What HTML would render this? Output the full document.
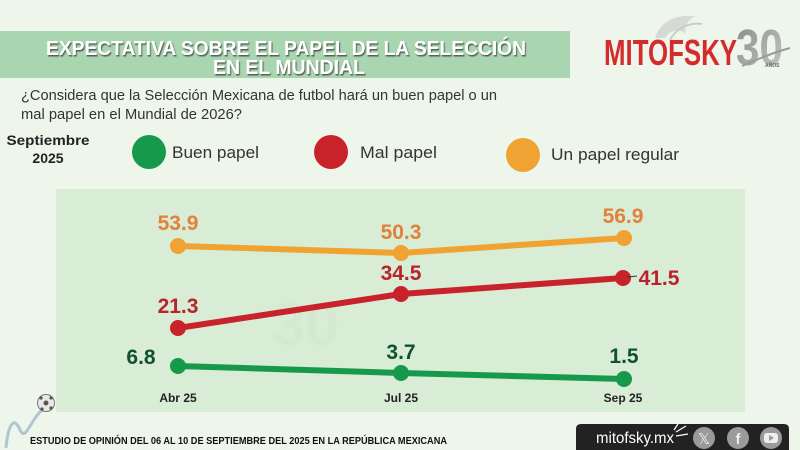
<!DOCTYPE html>
<html><head><meta charset="utf-8"><style>
html,body{margin:0;padding:0;background:#eef6ec;}
svg{display:block;}
</style></head><body>
<svg width="800" height="450" viewBox="0 0 800 450" xmlns="http://www.w3.org/2000/svg" font-family="Liberation Sans, sans-serif">
  <defs>
    <filter id="sh" x="-5%" y="-20%" width="110%" height="150%">
      <feDropShadow dx="1" dy="1.5" stdDeviation="0.6" flood-color="#333" flood-opacity="0.75"/>
    </filter>
    <linearGradient id="g30" x1="0" y1="0" x2="1" y2="1">
      <stop offset="0" stop-color="#8a8a8a"/><stop offset="1" stop-color="#c8c8c8"/>
    </linearGradient>
  </defs>
  <rect width="800" height="450" fill="#eef6ec"/>
  <!-- title bar -->
  <rect x="0" y="31" width="570" height="47" fill="#a9d5b0"/>
  <g filter="url(#sh)" fill="#ffffff" font-weight="bold" font-size="20" text-anchor="middle">
    <text x="286" y="55" textLength="480" lengthAdjust="spacingAndGlyphs">EXPECTATIVA SOBRE EL PAPEL DE LA SELECCIÓN</text>
    <text x="289" y="74" textLength="152" lengthAdjust="spacingAndGlyphs">EN EL MUNDIAL</text>
  </g>
  <!-- logo -->
  <path d="M655 38 C660 22 675 14 695 16 C688 20 684 26 686 34 C680 28 670 30 665 38 Z" fill="#cfd3cf" opacity="0.8"/>
  <path d="M670 40 C676 28 690 22 702 24" stroke="#c9cdc9" stroke-width="2" fill="none"/>
  <g transform="translate(604,65) scale(1,1.25)">
    <text x="0" y="0" font-size="29" font-weight="bold" fill="#d42c2c" textLength="133" lengthAdjust="spacingAndGlyphs">MITOFSKY</text>
  </g>
  <g transform="translate(736,65) scale(1,1.1)">
    <text x="0" y="0" font-size="46" font-weight="bold" fill="url(#g30)" textLength="47" lengthAdjust="spacingAndGlyphs">30</text>
  </g>
  <path d="M742 66 C760 58 775 52 790 48" stroke="#9a9a9a" stroke-width="2" fill="none"/>
  <text x="765" y="67" font-size="5" font-weight="bold" fill="#666">AÑOS</text>
  <!-- question -->
  <g font-size="14.5" fill="#333">
    <text x="21" y="100" textLength="476" lengthAdjust="spacingAndGlyphs">¿Considera que la Selección Mexicana de futbol hará un buen papel o un</text>
    <text x="21" y="119" textLength="221" lengthAdjust="spacingAndGlyphs">mal papel en el Mundial de 2026?</text>
  </g>
  <!-- legend -->
  <g font-weight="bold" font-size="14" fill="#222" text-anchor="middle">
    <text x="48" y="145" textLength="83" lengthAdjust="spacingAndGlyphs">Septiembre</text>
    <text x="48" y="163">2025</text>
  </g>
  <circle cx="149" cy="152" r="17" fill="#17994c"/>
  <text x="172" y="158" font-size="17" fill="#333" textLength="87" lengthAdjust="spacingAndGlyphs">Buen papel</text>
  <circle cx="331" cy="152" r="17" fill="#c8232b"/>
  <text x="360" y="158" font-size="17" fill="#333" textLength="77" lengthAdjust="spacingAndGlyphs">Mal papel</text>
  <circle cx="523" cy="155" r="17" fill="#f0a233"/>
  <text x="551" y="160" font-size="17" fill="#333" textLength="128" lengthAdjust="spacingAndGlyphs">Un papel regular</text>
  <!-- chart panel -->
  <rect x="56" y="189" width="689" height="223" fill="#d9ecd5"/>
  <!-- faint watermark -->
  <text x="272" y="345" font-size="60" font-weight="bold" fill="#cfe3cb" opacity="0.35">30</text>
  <!-- orange series -->
  <polyline points="178,246 401,253 624,238" fill="none" stroke="#f0a233" stroke-width="6" stroke-linejoin="round"/>
  <g fill="#f0a233"><circle cx="178" cy="246" r="8"/><circle cx="401" cy="253" r="8"/><circle cx="624" cy="238" r="8"/></g>
  <!-- red series -->
  <polyline points="178,328 401,294 623,278" fill="none" stroke="#c8232b" stroke-width="6" stroke-linejoin="round"/>
  <g fill="#c8232b"><circle cx="178" cy="328" r="8"/><circle cx="401" cy="294" r="8"/><circle cx="623" cy="278" r="8"/></g>
  <line x1="628" y1="277" x2="637" y2="276" stroke="#333" stroke-width="1"/>
  <!-- green series -->
  <polyline points="178,366 401,373 624,379" fill="none" stroke="#17994c" stroke-width="6" stroke-linejoin="round"/>
  <g fill="#17994c"><circle cx="178" cy="366" r="8"/><circle cx="401" cy="373" r="8"/><circle cx="624" cy="379" r="8"/></g>
  <!-- value labels -->
  <g font-weight="bold" font-size="21" text-anchor="middle">
    <text x="178" y="230" fill="#e2823a">53.9</text>
    <text x="401" y="239" fill="#e2823a">50.3</text>
    <text x="623" y="223" fill="#e2823a">56.9</text>
    <text x="178" y="313" fill="#b8232c">21.3</text>
    <text x="401" y="280" fill="#b8232c">34.5</text>
    <text x="659" y="285" fill="#b8232c">41.5</text>
    <text x="141" y="364" fill="#0f5230">6.8</text>
    <text x="401" y="359" fill="#0f5230">3.7</text>
    <text x="624" y="363" fill="#0f5230">1.5</text>
  </g>
  <g font-weight="bold" font-size="12" fill="#222" text-anchor="middle">
    <text x="178" y="402">Abr 25</text>
    <text x="401" y="402">Jul 25</text>
    <text x="623" y="402">Sep 25</text>
  </g>
  <!-- soccer ball + swoosh -->
  <path d="M6 448 C8 425 14 415 20 430 C26 442 30 420 42 410" stroke="#9fb9c8" stroke-width="3" fill="none" opacity="0.8"/>
  <circle cx="46" cy="403" r="8.5" fill="#e8e8e8" stroke="#777" stroke-width="1"/>
  <circle cx="46" cy="403" r="2.5" fill="#555"/>
  <circle cx="41" cy="398" r="1.6" fill="#555"/>
  <circle cx="51" cy="398" r="1.6" fill="#555"/>
  <circle cx="42" cy="409" r="1.6" fill="#555"/>
  <circle cx="51" cy="408" r="1.6" fill="#555"/>
  <!-- footer -->
  <text x="30" y="444" font-size="10" font-weight="bold" fill="#111" textLength="417" lengthAdjust="spacingAndGlyphs">ESTUDIO DE OPINIÓN DEL 06 AL 10 DE SEPTIEMBRE DEL 2025 EN LA REPÚBLICA MEXICANA</text>
  <path d="M576 450 L576 429 Q576 424 581 424 L784 424 Q789 424 789 429 L789 450 Z" fill="#222"/>
  <text x="596" y="443" font-size="16" fill="#fff" textLength="78" lengthAdjust="spacingAndGlyphs">mitofsky.mx</text>
  <g stroke="#fff" stroke-width="1.2"><line x1="676" y1="432" x2="686" y2="426"/><line x1="676" y1="436" x2="688" y2="434"/><line x1="674" y1="430" x2="678" y2="424"/></g>
  <circle cx="704" cy="438" r="11" fill="#9a9a9a"/>
  <text x="704" y="444" font-size="15" fill="#eee" text-anchor="middle">𝕏</text>
  <circle cx="738" cy="438" r="11" fill="#9a9a9a"/>
  <text x="738" y="444" font-size="15" font-weight="bold" fill="#eee" text-anchor="middle">f</text>
  <circle cx="771" cy="438" r="11" fill="#9a9a9a"/>
  <rect x="764" y="433" width="14" height="10" rx="3" fill="#eee"/>
  <path d="M769 435 L774 438 L769 441 Z" fill="#9a9a9a"/>
</svg>
</body></html>
